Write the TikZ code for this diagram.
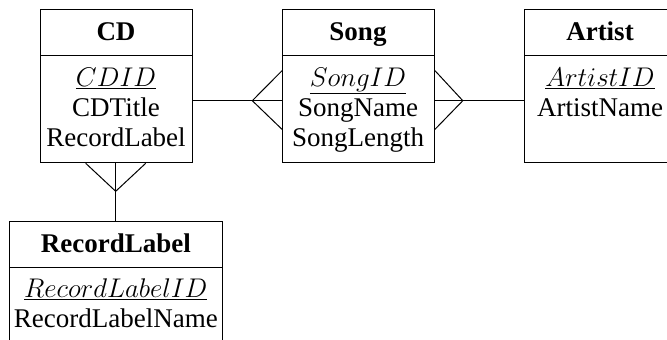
\documentclass[tikz,border=0pt]{standalone}
\usepackage{fix-cm}
\usepackage{fontspec}
\setmainfont{Liberation Serif}
\usetikzlibrary{calc}
\begin{document}
\begin{tikzpicture}[x=1pt,y=-1pt,line width=1pt,
  entity/.style={draw,rectangle,inner sep=0pt,anchor=north west,minimum width=152pt,minimum height=153pt},
  txt/.style={anchor=base,inner sep=0pt,font=\fontsize{27}{30}\selectfont},
  head/.style={txt,font=\fontsize{27}{30}\selectfont\bfseries}]
\clip (0,0) rectangle (667,340);
\useasboundingbox (0,0) rectangle (667,340);
% entities
\node[entity] (cd) at (40,9.3) {};
\node[entity] (song) at (282,9.3) {};
\node[entity] (artist) at (524,9.3) {};
\node[entity,minimum width=213pt,minimum height=160pt] (rl) at (9.3,221) {};
% header separators
\draw ($(cd.north west)+(0,46)$) -- ($(cd.north east)+(0,46)$);
\draw ($(song.north west)+(0,46)$) -- ($(song.north east)+(0,46)$);
\draw ($(artist.north west)+(0,46)$) -- ($(artist.north east)+(0,46)$);
\draw ($(rl.north west)+(0,46.3)$) -- ($(rl.north east)+(0,46.3)$);
% texts
\node[head] (cdh) at (116,40) {CD};
\node[txt] (cd1) at (116,86.5) {$\underline{CDID}$};
\node[txt] (cd2) at (116,116.5) {CDTitle};
\node[txt] (cd3) at (116,146.5) {RecordLabel};
\node[head] (songh) at (358,40) {Song};
\node[txt] (song1) at (358,86.5) {$\underline{SongID}$};
\node[txt] (song2) at (358,116.5) {SongName};
\node[txt] (song3) at (358,146.5) {SongLength};
\node[head] (arth) at (600,40) {Artist};
\node[txt] (art1) at (600,86.5) {$\underline{ArtistID}$};
\node[txt] (art2) at (600,116.5) {ArtistName};
\node[head] (rlh) at (115.8,252) {RecordLabel};
\node[txt] (rl1) at (115.8,297.5) {$\underline{RecordLabelID}$};
\node[txt] (rl2) at (115.8,327) {RecordLabelName};
% connectors
\coordinate (row) at (0,100.7);
\coordinate (up) at (0,70.7);
\coordinate (dn) at (0,129.3);
\coordinate (colx) at (115.7,0);
\coordinate (a1) at (252.3,100.7);
\coordinate (a2) at (462.8,100.7);
\coordinate (a3) at (115.7,191.3);
\draw (cd.east |- row) -- (song.west |- row);
\draw (song.west |- up) -- (a1) -- (song.west |- dn);
\draw (song.east |- row) -- (artist.west |- row);
\draw (song.east |- up) -- (a2) -- (song.east |- dn);
\draw (colx |- cd.south) -- (colx |- rl.north);
\draw ($(colx |- cd.south)+(-30,0)$) -- (a3) -- ($(colx |- cd.south)+(30,0)$);
\end{tikzpicture}
\end{document}
